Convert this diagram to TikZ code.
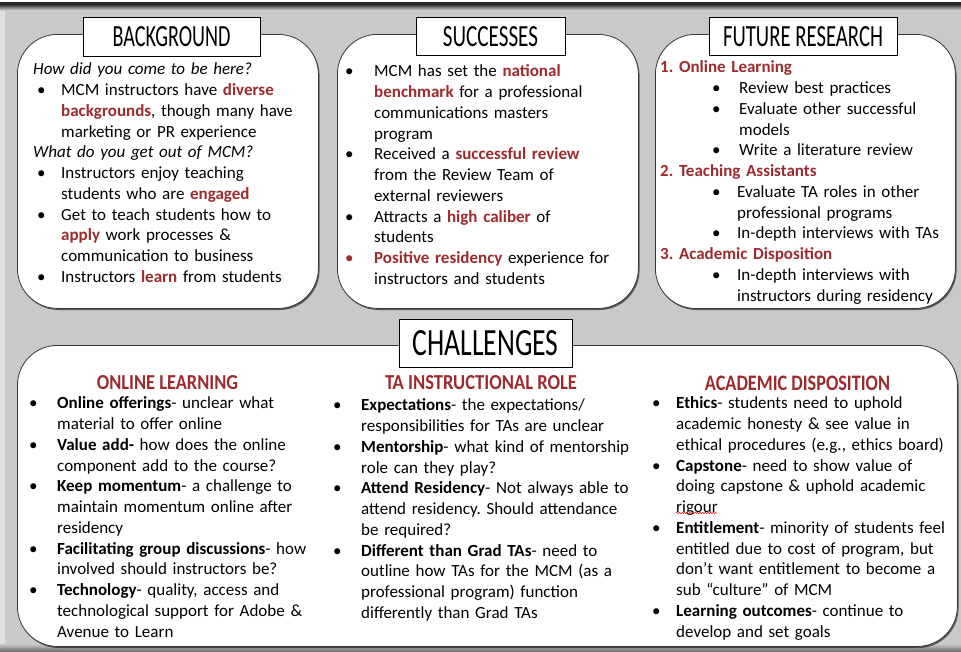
\documentclass[tikz,border=0pt]{standalone}
\usepackage{fontspec}
\usepackage{graphicx}
\setmainfont{Carlito}
\usetikzlibrary{shadows,decorations.pathmorphing}
\definecolor{bgray}{RGB}{201,201,201}
\definecolor{mred}{RGB}{155,43,47}
\definecolor{edgegray}{RGB}{55,55,55}
\newcommand{\hl}[1]{\textcolor{mred}{\textbf{#1}}}
\newcommand{\nl}{\newline}
% bullet item: #1 bullet offset, #2 text offset, #3 text
\newcommand{\bitem}[3]{\par\hangindent=#2\hangafter=1\noindent\hspace*{#1}\makebox[\dimexpr#2-#1\relax][l]{\textbullet}#3\par}
\newcommand{\ritem}[3]{\par\hangindent=#2\hangafter=1\noindent\hspace*{#1}\makebox[\dimexpr#2-#1\relax][l]{\textcolor{mred}{\textbullet}}#3\par}
\newcommand{\plain}[1]{\par\noindent #1\par}
\tikzset{
  panel/.style={draw=edgegray, line width=0.8pt, fill=white, rounded corners=40pt,
    anchor=north west, inner sep=0pt,
    drop shadow={shadow xshift=1.2pt, shadow yshift=-1.6pt, opacity=0.55, fill=black}},
  titlebox/.style={draw=black, line width=0.8pt, fill=white, inner sep=0pt},
  txt/.style={anchor=north west, inner sep=0pt, text width=#1, align=left,
    font=\fontsize{17}{20.75}\selectfont\frenchspacing},
  redhead/.style={inner sep=0pt, text=mred}
}
\begin{document}
\begin{tikzpicture}[x=1pt,y=-1pt]
\useasboundingbox (0,0) rectangle (961,651);
% background
\fill[bgray] (0,0) rectangle (961,651);
\fill[black!12] (0,0) rectangle (5,651);
\fill[white] (0,0) rectangle (961,2);
\fill[black!85] (0,2) rectangle (961,5);
\shade[top color=black!75, bottom color=bgray] (0,5) rectangle (961,10);
\shade[top color=bgray, bottom color=black!55] (0,644) rectangle (961,651);

% panels
\node[panel, minimum width=301pt, minimum height=274pt] (bgp) at (17,34) {};
\node[panel, minimum width=301pt, minimum height=274pt] (sup) at (337,34) {};
\node[panel, minimum width=300pt, minimum height=274pt] (frp) at (655,34) {};
\node[panel, minimum width=940pt, minimum height=301pt] (chp) at (17,345) {};

% titles
\node[titlebox, minimum width=177pt, minimum height=39pt] (bgt) at (171.5,36.5)
  {\resizebox{118pt}{20pt}{BACKGROUND}};
\node[titlebox, minimum width=149pt, minimum height=38pt] (sut) at (490.5,36.5)
  {\resizebox{95pt}{20pt}{SUCCESSES}};
\node[titlebox, minimum width=188pt, minimum height=38pt] (frt) at (803,36.5)
  {\resizebox{160pt}{20pt}{FUTURE RESEARCH}};
\node[titlebox, minimum width=173pt, minimum height=48pt] (cht) at (485.5,343)
  {\resizebox{146pt}{25pt}{CHALLENGES}};

% background text
\node[txt=330pt] (bgx) at (33,54) {%
\plain{\textit{How did you come to be here?}}
\bitem{4pt}{28pt}{MCM instructors have \hl{diverse}\nl \hl{backgrounds}, though many have\nl marketing or PR experience}
\plain{\textit{What do you get out of MCM?}}
\bitem{4pt}{28pt}{Instructors enjoy teaching\nl students who are \hl{engaged}}
\bitem{4pt}{28pt}{Get to teach students how to\nl \hl{apply} work processes \&\nl communication to business}
\bitem{4pt}{28pt}{Instructors \hl{learn} from students}};

% successes text
\node[txt=330pt] (sux) at (345,56) {%
\bitem{0pt}{29pt}{MCM has set the \hl{national}\nl \hl{benchmark} for a professional\nl communications masters\nl program}
\bitem{0pt}{29pt}{Received a \hl{successful review}\nl from the Review Team of\nl external reviewers}
\bitem{0pt}{29pt}{Attracts a \hl{high caliber} of\nl students}
\ritem{0pt}{29pt}{\hl{Positive residency} experience for\nl instructors and students}};

% future research text
\node[txt=330pt] (frx) at (660,52) {%
\plain{\hl{1. Online Learning}}
\bitem{52pt}{79pt}{Review best practices}
\bitem{52pt}{79pt}{Evaluate other successful\nl models}
\bitem{52pt}{79pt}{Write a literature review}
\plain{\hl{2. Teaching Assistants}}
\bitem{52pt}{77pt}{Evaluate TA roles in other\nl professional programs}
\bitem{52pt}{77pt}{In-depth interviews with TAs}
\plain{\hl{3. Academic Disposition}}
\bitem{52pt}{77pt}{In-depth interviews with\nl instructors during residency}};

% challenges headings
\node[redhead] (olh) at (167.5,383) {\resizebox{141pt}{14pt}{\bfseries ONLINE LEARNING}};
\node[redhead] (tah) at (481,383) {\resizebox{192pt}{14pt}{\bfseries TA INSTRUCTIONAL ROLE}};
\node[redhead] (adh) at (797.5,383.5) {\resizebox{185pt}{14.5pt}{\bfseries ACADEMIC DISPOSITION}};

% challenges columns
\node[txt=330pt] (olx) at (29,388) {%
\bitem{0pt}{28pt}{\textbf{Online offerings}- unclear what\nl material to offer online}
\bitem{0pt}{28pt}{\textbf{Value add-} how does the online\nl component add to the course?}
\bitem{0pt}{28pt}{\textbf{Keep momentum}- a challenge to\nl maintain momentum online after\nl residency}
\bitem{0pt}{28pt}{\textbf{Facilitating group discussions}- how\nl involved should instructors be?}
\bitem{0pt}{28pt}{\textbf{Technology}- quality, access and\nl technological support for Adobe \&\nl Avenue to Learn}};

\node[txt=330pt] (tax) at (333,390) {%
\bitem{0pt}{28pt}{\textbf{Expectations}- the expectations/\nl responsibilities for TAs are unclear}
\bitem{0pt}{28pt}{\textbf{Mentorship}- what kind of mentorship\nl role can they play?}
\bitem{0pt}{28pt}{\textbf{Attend Residency}- Not always able to\nl attend residency. Should attendance\nl be required?}
\bitem{0pt}{28pt}{\textbf{Different than Grad TAs}- need to\nl outline how TAs for the MCM (as a\nl professional program) function\nl differently than Grad TAs}};

\node[txt=330pt] (adx) at (652,388) {%
\bitem{0pt}{24pt}{\textbf{Ethics}- students need to uphold\nl academic honesty \& see value in\nl ethical procedures (e.g., ethics board)}
\bitem{0pt}{24pt}{\textbf{Capstone}- need to show value of\nl doing capstone \& uphold academic\nl rigour}
\bitem{0pt}{24pt}{\textbf{Entitlement}- minority of students feel\nl entitled due to cost of program, but\nl don’t want entitlement to become a\nl sub “culture” of MCM}
\bitem{0pt}{24pt}{\textbf{Learning outcomes}- continue to\nl develop and set goals}};

% spell-check squiggle under "rigour"
\draw[red, line width=0.5pt, decorate, decoration={snake, amplitude=0.7pt, segment length=2.6pt}] (676,513) -- (717,513);
\end{tikzpicture}
\end{document}
